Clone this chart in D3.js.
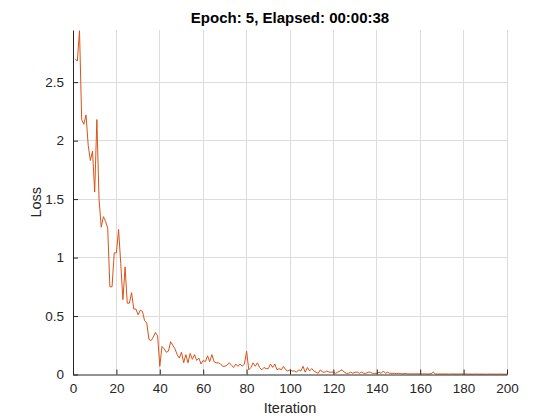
<!DOCTYPE html>
<html lang="en">
    <head>
        <meta charset="UTF-8">
        <script src="https://unpkg.com/d3@7/dist/d3.min.js"></script>
        <title>Training loss</title>
        <style>
            body { margin: 0; background: #fff; }
            text { font-family: "Liberation Sans", Arial, sans-serif; }
        </style>
    </head>
    <body>
        <script type="text/javascript">
            // Loss per iteration (iterations 1..200)
            var loss = [
                2.70, 2.68, 2.94, 2.18, 2.14, 2.22, 1.96, 1.83, 1.91, 1.56,
                2.18, 1.50, 1.26, 1.35, 1.31, 1.25, 0.75, 0.75, 1.04, 1.04,
                1.24, 0.95, 0.64, 0.92, 0.61, 0.61, 0.70, 0.56, 0.56, 0.51,
                0.55, 0.54, 0.46, 0.44, 0.30, 0.29, 0.32, 0.36, 0.33, 0.07,
                0.24, 0.22, 0.19, 0.20, 0.28, 0.25, 0.22, 0.17, 0.14, 0.19,
                0.10, 0.17, 0.10, 0.18, 0.13, 0.17, 0.12, 0.14, 0.09, 0.12,
                0.11, 0.16, 0.11, 0.17, 0.11, 0.10, 0.10, 0.09, 0.07, 0.07,
                0.08, 0.10, 0.08, 0.06, 0.09, 0.07, 0.09, 0.07, 0.09, 0.20,
                0.04, 0.06, 0.10, 0.07, 0.10, 0.06, 0.04, 0.06, 0.05, 0.05,
                0.09, 0.06, 0.09, 0.04, 0.05, 0.04, 0.07, 0.04, 0.03, 0.04,
                0.03, 0.03, 0.02, 0.04, 0.03, 0.07, 0.02, 0.06, 0.03, 0.05,
                0.03, 0.02, 0.01, 0.04, 0.02, 0.02, 0.03, 0.02, 0.02, 0.02,
                0.01, 0.02, 0.03, 0.04, 0.02, 0.01, 0.01, 0.02, 0.01, 0.02,
                0.02, 0.01, 0.02, 0.01, 0.01, 0.02, 0.02, 0.01, 0.01, 0.01,
                0.02, 0.01, 0.03, 0.01, 0.02, 0.01, 0.01, 0.01, 0.008, 0.01,
                0.008, 0.006, 0.008, 0.006, 0.005, 0.006, 0.005, 0.006, 0.005, 0.005,
                0.005, 0.006, 0.005, 0.005, 0.006, 0.02, 0.005, 0.004, 0.005, 0.004,
                0.004, 0.005, 0.004, 0.004, 0.005, 0.004, 0.004, 0.004, 0.005, 0.004,
                0.004, 0.004, 0.004, 0.003, 0.004, 0.004, 0.003, 0.004, 0.003, 0.003,
                0.003, 0.004, 0.003, 0.003, 0.003, 0.003, 0.004, 0.003, 0.003, 0.003
            ];
            var iterations = loss.map(function(d, i) { return i + 1; });
            var xTicks = [0, 20, 40, 60, 80, 100, 120, 140, 160, 180, 200];
            var yTicks = [0, 0.5, 1, 1.5, 2, 2.5];
            var titleText = "Epoch: 5, Elapsed: 00:00:38";

            var margin = { top: 30, right: 53, bottom: 45.5, left: 73 };
            var width = 560 - margin.left - margin.right;
            var height = 420 - margin.top - margin.bottom;
            var axisColor = "#262626";

            var svg = d3.select("body")
                .append("svg")
                .attr("width", 560)
                .attr("height", 420);

            var g = svg.append("g")
                .attr("transform", "translate(" + margin.left + "," + margin.top + ")");

            var xScale = d3.scaleLinear().domain([0, 200]).range([0, width]);
            var yScale = d3.scaleLinear().domain([0, 2.946]).range([height, 0]);

            // Grid lines
            g.selectAll(".xgrid")
                .data(xTicks.slice(1))
                .enter()
                .append("line")
                .attr("x1", function(d) { return xScale(d); })
                .attr("x2", function(d) { return xScale(d); })
                .attr("y1", 0)
                .attr("y2", height)
                .attr("stroke", "#dcdcdc")
                .attr("stroke-width", 1)
                .attr("shape-rendering", "crispEdges");

            g.selectAll(".ygrid")
                .data(yTicks.slice(1))
                .enter()
                .append("line")
                .attr("x1", 0)
                .attr("x2", width)
                .attr("y1", function(d) { return yScale(d); })
                .attr("y2", function(d) { return yScale(d); })
                .attr("stroke", "#dcdcdc")
                .attr("stroke-width", 1)
                .attr("shape-rendering", "crispEdges");

            // Loss line
            var line = d3.line()
                .x(function(d, i) { return xScale(iterations[i]); })
                .y(function(d) { return yScale(d); });

            g.append("path")
                .datum(loss)
                .attr("fill", "none")
                .attr("stroke", "#D95319")
                .attr("stroke-width", 1)
                .attr("d", line);

            // Axes (MATLAB style ticks pointing inward)
            var xAxis = d3.axisBottom(xScale).tickValues(xTicks).tickSizeInner(-5).tickSizeOuter(0).tickPadding(9);
            var yAxis = d3.axisLeft(yScale).tickValues(yTicks).tickSizeInner(-5).tickSizeOuter(0).tickPadding(9)
                .tickFormat(function(d) { return d; });

            var gx = g.append("g")
                .attr("transform", "translate(0," + height + ")")
                .call(xAxis);
            var gy = g.append("g").call(yAxis);

            [gx, gy].forEach(function(a) {
                a.selectAll("path, line").attr("stroke", axisColor);
                a.selectAll("text")
                    .attr("fill", axisColor)
                    .style("font-size", "13.5px");
            });

            // Labels
            svg.append("text")
                .attr("x", margin.left + width / 2)
                .attr("y", 413)
                .attr("text-anchor", "middle")
                .attr("fill", axisColor)
                .style("font-size", "14.5px")
                .text("Iteration");

            svg.append("text")
                .attr("transform", "translate(41," + (margin.top + height / 2) + ") rotate(-90)")
                .attr("text-anchor", "middle")
                .attr("fill", axisColor)
                .style("font-size", "14.5px")
                .text("Loss");

            svg.append("text")
                .attr("x", margin.left + width / 2)
                .attr("y", 23)
                .attr("text-anchor", "middle")
                .attr("fill", "#000")
                .style("font-size", "15px")
                .style("font-weight", "bold")
                .text(titleText);
        </script>
    </body>
</html>
